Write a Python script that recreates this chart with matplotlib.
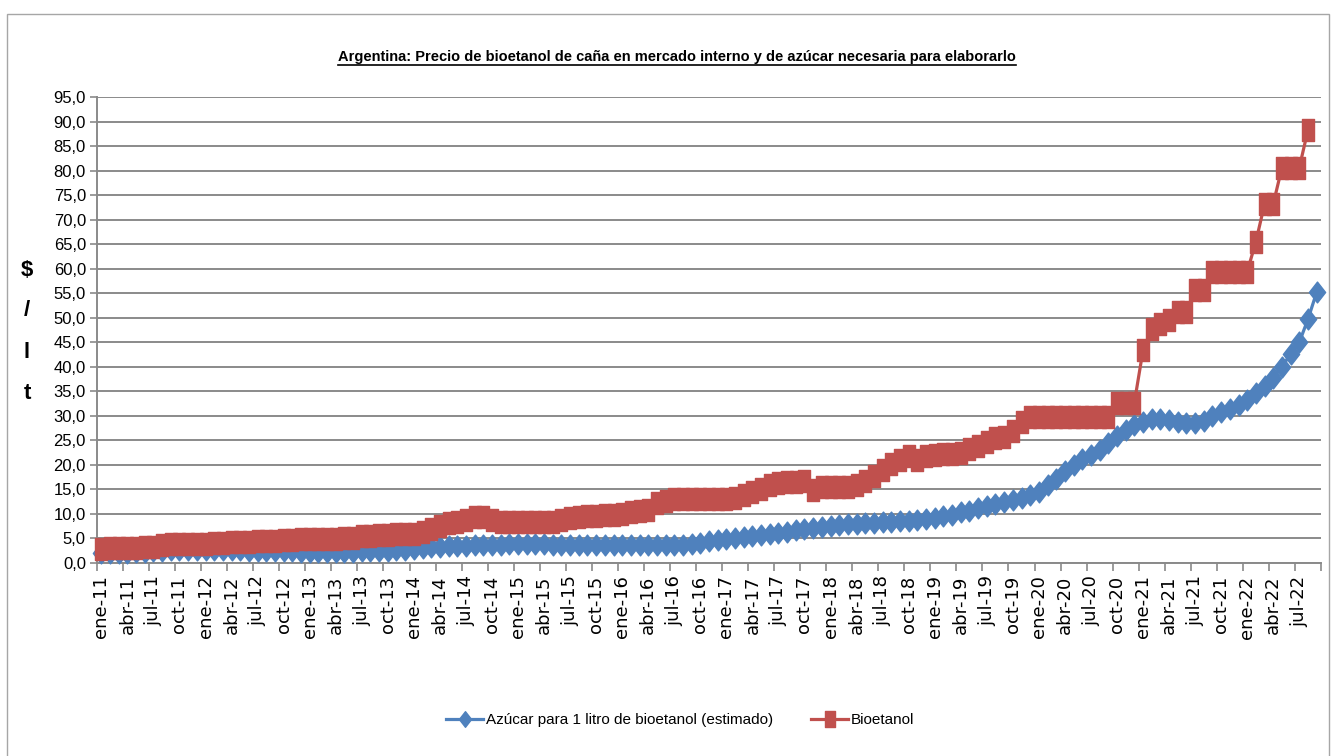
import numpy as np
import matplotlib.pyplot as plt
from matplotlib.path import Path
from matplotlib.lines import Line2D
from matplotlib.patches import Rectangle

# Datos mensuales ene-11 .. sep-22 ($/lt)
meses = ["ene", "feb", "mar", "abr", "may", "jun", "jul", "ago", "sep", "oct", "nov", "dic"]
anios = list(range(11, 23))

azucar = [
    2.0, 2.0, 2.1, 2.1, 2.2, 2.3, 2.4, 2.5, 2.55, 2.6, 2.6, 2.6,            # 2011
    2.6, 2.6, 2.6, 2.6, 2.55, 2.5, 2.5, 2.5, 2.45, 2.4, 2.35, 2.3,          # 2012
    2.25, 2.2, 2.2, 2.2, 2.2, 2.2, 2.35, 2.4, 2.45, 2.5, 2.55, 2.65,        # 2013
    2.8, 3.0, 3.2, 3.3, 3.4, 3.5, 3.5, 3.6, 3.6, 3.7, 3.7, 3.8,             # 2014
    3.8, 3.8, 3.8, 3.8, 3.75, 3.7, 3.7, 3.7, 3.7, 3.7, 3.7, 3.7,            # 2015
    3.7, 3.65, 3.6, 3.6, 3.6, 3.6, 3.6, 3.7, 3.9, 4.1, 4.4, 4.7,           # 2016
    4.9, 5.1, 5.3, 5.5, 5.75, 6.0, 6.2, 6.4, 6.7, 6.95, 7.2, 7.4,          # 2017
    7.6, 7.8, 7.95, 8.05, 8.15, 8.25, 8.35, 8.4, 8.5, 8.65, 8.8, 8.95,     # 2018
    9.2, 9.5, 9.85, 10.3, 10.7, 11.3, 11.6, 12.1, 12.5, 12.9, 13.25, 13.9,  # 2019
    14.4, 15.8, 17.1, 18.7, 20.0, 21.2, 22.1, 23.1, 24.5, 25.8, 27.2, 28.2,  # 2020
    28.8, 29.4, 29.3, 29.1, 28.7, 28.5, 28.5, 29.0, 29.9, 30.7, 31.3, 32.3,  # 2021
    33.3, 34.7, 36.1, 37.8, 40.0, 42.6, 45.0, 49.7, 55.2,                    # 2022
]

bioetanol = [
    2.9, 3.0, 3.0, 3.0, 3.0, 3.2, 3.3, 3.7, 3.8, 3.85, 3.85, 3.9,
    3.95, 4.0, 4.05, 4.2, 4.25, 4.35, 4.45, 4.5, 4.55, 4.7, 4.75, 4.8,
    4.85, 4.9, 4.9, 4.9, 5.05, 5.1, 5.45, 5.5, 5.65, 5.7, 5.85, 5.9,
    6.0, 6.35, 7.0, 7.6, 8.1, 8.4, 8.75, 9.3, 9.3, 8.75, 8.35, 8.35,
    8.4, 8.4, 8.4, 8.4, 8.45, 8.8, 9.2, 9.4, 9.5, 9.65, 9.7, 9.7,
    10.05, 10.4, 10.65, 10.8, 12.2, 12.6, 12.95, 13.1, 13.1, 13.1, 13.1, 13.1,
    13.1, 13.3, 13.9, 14.5, 15.1, 15.8, 16.25, 16.45, 16.6, 16.65, 14.8, 15.4,
    15.4, 15.4, 15.4, 15.9, 16.7, 17.8, 18.9, 20.1, 21.0, 21.8, 21.0, 21.9,
    22.0, 22.2, 22.3, 22.4, 23.2, 23.9, 24.7, 25.5, 25.6, 27.0, 28.7, 29.8,
    29.8, 29.8, 29.8, 29.8, 29.8, 29.8, 29.8, 29.8, 29.8, 32.7, 32.7, 32.7,
    43.4, 47.7, 48.7, 49.5, 51.2, 51.2, 55.6, 55.6, 59.4, 59.4, 59.4, 59.4,
    59.4, 65.5, 73.2, 73.2, 80.6, 80.6, 80.6, 88.3, np.nan,
]

etiquetas = [f"{m}-{a}" for a in anios for m in meses][:len(azucar)]

azul = "#4F81BD"
rojo = "#C0504D"
gris = "#8A8A8A"
fuente = ["Liberation Sans Narrow", "Liberation Sans"]

# markers estirados en vertical, como en la imagen original
diamante = Path([(0, -1), (0.78, 0), (0, 1), (-0.78, 0), (0, -1)],
                [Path.MOVETO, Path.LINETO, Path.LINETO, Path.LINETO, Path.CLOSEPOLY])
cuadrado = Path([(-0.6, -1), (0.6, -1), (0.6, 1), (-0.6, 1), (-0.6, -1)],
                [Path.MOVETO, Path.LINETO, Path.LINETO, Path.LINETO, Path.CLOSEPOLY])

fig = plt.figure(figsize=(13.34, 7.56), dpi=100)
W, H = 1334, 756
fig.patches.append(Rectangle((7 / W, -0.01), (1329 - 7) / W, 1 - 14 / H + 0.01,
                             transform=fig.transFigure, fill=False,
                             edgecolor="#A6A6A6", lw=1.0))

ax = fig.add_axes([97 / W, 1 - 563 / H, (1321 - 97) / W, (563 - 97) / H])
x = np.arange(len(azucar))

ax.plot(x, azucar, color=azul, lw=2.3, marker=diamante, markersize=15,
        markerfacecolor=azul, markeredgecolor=azul, clip_on=False, zorder=3,
        label="Azúcar para 1 litro de bioetanol (estimado)")
ax.plot(x, bioetanol, color=rojo, lw=2.3, marker=cuadrado, markersize=15.5,
        markerfacecolor=rojo, markeredgecolor=rojo, clip_on=False, zorder=4,
        label="Bioetanol")

ax.set_xlim(-0.5, len(azucar) - 0.5)
ax.set_ylim(0, 95)
ax.set_yticks(np.arange(0, 96, 5))
ax.set_yticklabels([f"{v:.1f}".replace(".", ",") for v in np.arange(0, 96, 5)],
                   fontsize=12, family=fuente)
ax.grid(axis="y", color=gris, lw=1.4)
ax.set_axisbelow(True)

# marcas entre categorias cada 3 meses, etiquetas centradas en la categoria
ax.set_xticks(np.arange(-0.5, len(azucar), 3))
ax.set_xticklabels([])
ax.set_xticks(x[::3], minor=True)
ax.set_xticklabels(etiquetas[::3], minor=True, rotation=90, fontsize=13,
                   family="DejaVu Sans")
ax.tick_params(axis="x", which="major", length=6, color=gris, width=1.2)
ax.tick_params(axis="x", which="minor", length=0, pad=9)
ax.tick_params(axis="y", length=5, color=gris, width=1.2, pad=3)

for s in ["top", "right"]:
    ax.spines[s].set_visible(False)
for s in ["left", "bottom"]:
    ax.spines[s].set_color(gris)
    ax.spines[s].set_linewidth(1.4)

for letra, yy in zip(["$", "/", "l", "t"], [270, 311, 352, 393]):
    fig.text(27 / W, 1 - yy / H, letra, ha="center", va="center",
             fontsize=16, fontweight="bold", family=fuente)

titulo = fig.text(677 / W, 1 - 57 / H,
                  "Argentina: Precio de bioetanol de caña en mercado interno y de azúcar necesaria para elaborarlo",
                  ha="center", va="center", fontsize=10.5, fontweight="bold", family=fuente)

fig.legend(loc="center", bbox_to_anchor=(0.51, 1 - 720 / H), ncol=2, frameon=False,
           prop={"family": fuente, "size": 11}, markerscale=0.75, handlelength=2.4,
           columnspacing=2.5, handletextpad=0.2)

fig.canvas.draw()
bb = titulo.get_window_extent()
fig.add_artist(Line2D([bb.x0 / W, bb.x1 / W], [(bb.y0 - 1) / H, (bb.y0 - 1) / H],
                      transform=fig.transFigure, color="black", lw=1.2))

fig.savefig("out.png", dpi=100)
